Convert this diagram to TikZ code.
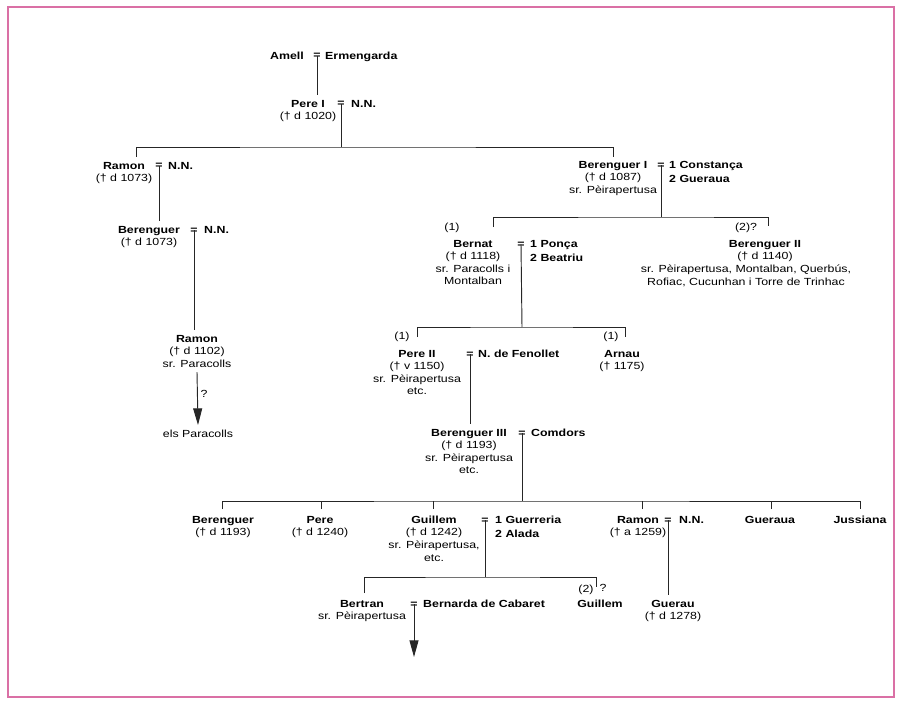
\documentclass[tikz,border=0pt]{standalone}
\usepackage{fontspec}
\setmainfont{Liberation Sans}[FakeStretch=1.2]
\usetikzlibrary{arrows.meta}
\definecolor{framepink}{RGB}{218,112,165}
\tikzset{
    person/.style={align=center, anchor=north, inner xsep=1pt, inner ysep=4pt},
    spouse/.style={align=left, anchor=north west, inner sep=0pt, font={\fontsize{8.8pt}{11.8pt}\selectfont\bfseries}},
    eqsign/.style={anchor=base, inner sep=0pt, font=\bfseries},
    remark/.style={inner sep=0pt},
    link/.style={draw=black!85, line width=0.8pt},
    descent/.style={link, -{Triangle[length=0.5cm, width=0.27cm]}}
}
\begin{document}
\fontsize{8.8pt}{10.7pt}\selectfont
\begin{tikzpicture}[x=0.03cm, y=-0.03cm]
    \useasboundingbox (0,0) rectangle (900,705);
    \draw[framepink, line width=1.2pt] (8,7) rectangle (894,697);

    \node[person] (amell) at (287,47) {\bfseries Amell};
    \node[eqsign] (eqA) at (317,59) {=};
    \node[spouse] (ermengarda) at (325,52) {Ermengarda};

    \node[person] (pere1) at (308,95) {{\bfseries Pere I}\\(† d 1020)};
    \node[eqsign] (eqB) at (341,107) {=};
    \node[spouse] (nnB) at (351,100) {N.N.};
    \draw[link] (eqA.center) -- (eqA |- pere1.north);

    \node[person] (ramon1) at (124,157) {{\bfseries Ramon}\\(† d 1073)};
    \node[eqsign] (eqC) at (159,169) {=};
    \node[spouse] (nnC) at (168,162) {N.N.};
    \node[person] (berenguer1) at (613,156) {{\bfseries Berenguer I}\\(† d 1087)\\sr. Pèirapertusa};
    \node[eqsign] (eqD) at (661,168) {=};
    \node[spouse] (constanca) at (669,161) {1 Constança\\2 Gueraua};
    \coordinate (f1) at (341,147);
    \coordinate (d1) at (136,157);
    \coordinate (d2) at (613,157);
    \draw[link] (eqB.center) -- (f1);
    \draw[link] (d1) |- (f1) -| (d2);

    \node[person] (berenguer) at (149,221) {{\bfseries Berenguer}\\(† d 1073)};
    \node[eqsign] (eqE) at (194,233) {=};
    \node[spouse] (nnE) at (204,226) {N.N.};
    \draw[link] (eqC.center) -- (eqC |- berenguer.north);

    \node[person] (ramon2) at (197,330) {{\bfseries Ramon}\\(† d 1102)\\sr. Paracolls};
    \draw[link] (eqE.center) -- (eqE |- ramon2.north);
    \node[person] (paracolls) at (198,425) {els Paracolls};
    \draw[descent] (ramon2.south) -- (paracolls.north);
    \node[remark] (q1) at (204,394) {?};

    \coordinate (f2) at (661,217);
    \coordinate (d3) at (493,227);
    \coordinate (d4) at (768,226);
    \draw[link] (eqD.center) -- (f2);
    \draw[link] (d3) |- (f2) -| (d4);
    \node[remark] (l1) at (452,228) {(1)};
    \node[remark] (l2) at (746,228) {(2)?};
    \node[person] (bernat) at (473,235) {{\bfseries Bernat}\\(† d 1118)\\sr. Paracolls i\\Montalban};
    \node[eqsign] (eqF) at (521,247) {=};
    \node[spouse] (ponca) at (530,240) {1 Ponça\\2 Beatriu};
    \node[person] (berenguer2) at (765,235) {{\bfseries Berenguer II}\\(† d 1140)};
    \node[person, anchor=base] (lordships) at (746,285) {sr. Pèirapertusa, Montalban, Querbús,\\Rofiac, Cucunhan i Torre de Trinhac};

    \coordinate (f3) at (522,327);
    \coordinate (d5) at (417,337);
    \coordinate (d6) at (625,337);
    \draw[link] (eqF.center) -- (f3);
    \draw[link] (d5) |- (f3) -| (d6);
    \node[remark] (l3) at (402,337) {(1)};
    \node[remark] (l4) at (611,337) {(1)};
    \node[person] (pere2) at (417,345) {{\bfseries Pere II}\\(† v 1150)\\sr. Pèirapertusa\\etc.};
    \node[eqsign] (eqG) at (470,357) {=};
    \node[spouse] (fenollet) at (478,350) {N. de Fenollet};
    \node[person] (arnau) at (622,345) {{\bfseries Arnau}\\(† 1175)};

    \node[person] (berenguer3) at (469,424) {{\bfseries Berenguer III}\\(† d 1193)\\sr. Pèirapertusa\\etc.};
    \node[eqsign] (eqH) at (522,436) {=};
    \node[spouse] (comdors) at (531,429) {Comdors};
    \draw[link] (eqG.center) -- (eqG |- berenguer3.north);

    \coordinate (f4) at (522,501);
    \coordinate (d7) at (222,509);
    \coordinate (d8) at (321,509);
    \coordinate (d9) at (433,509);
    \coordinate (d10) at (642,509);
    \coordinate (d11) at (771,509);
    \coordinate (d12) at (860,509);
    \draw[link] (eqH.center) -- (f4);
    \draw[link] (d7) |- (f4) -| (d12);
    \foreach \d in {d8,d9,d10,d11}
        \draw[link] (\d) -- (\d |- f4);
    \node[person] (berenguer4) at (223,511) {{\bfseries Berenguer}\\(† d 1193)};
    \node[person] (pere3) at (320,511) {{\bfseries Pere}\\(† d 1240)};
    \node[person] (guillem1) at (434,511) {{\bfseries Guillem}\\(† d 1242)\\sr. Pèirapertusa,\\etc.};
    \node[eqsign] (eqI) at (485,523) {=};
    \node[spouse] (guerreria) at (495,516) {1 Guerreria\\2 Alada};
    \node[person] (ramon3) at (638,511) {{\bfseries Ramon}\\(† a 1259)};
    \node[eqsign] (eqJ) at (668,523) {=};
    \node[spouse] (nnJ) at (679,516) {N.N.};
    \node[person] (gueraua) at (770,511) {\bfseries Gueraua};
    \node[person] (jussiana) at (860,511) {\bfseries Jussiana};

    \coordinate (f5) at (485,577);
    \coordinate (d13) at (364,593);
    \coordinate (d14) at (596,587);
    \draw[link] (eqI.center) -- (f5);
    \draw[link] (d13) |- (f5) -| (d14);
    \node[remark] (l5) at (586,590) {(2)};
    \node[remark] (q2) at (603,588) {?};
    \node[person] (bertran) at (362,595) {{\bfseries Bertran}\\sr. Pèirapertusa};
    \node[eqsign] (eqK) at (414,607) {=};
    \node[spouse] (bernarda) at (423,600) {Bernarda de Cabaret};
    \node[person] (guillem2) at (600,595) {\bfseries Guillem};
    \node[person] (guerau) at (673,595) {{\bfseries Guerau}\\(† d 1278)};
    \draw[link] (eqJ.center) -- (eqJ |- guerau.north);
    \coordinate (e1) at (414,657);
    \draw[descent] (eqK.center) -- (e1);
\end{tikzpicture}
\end{document}
